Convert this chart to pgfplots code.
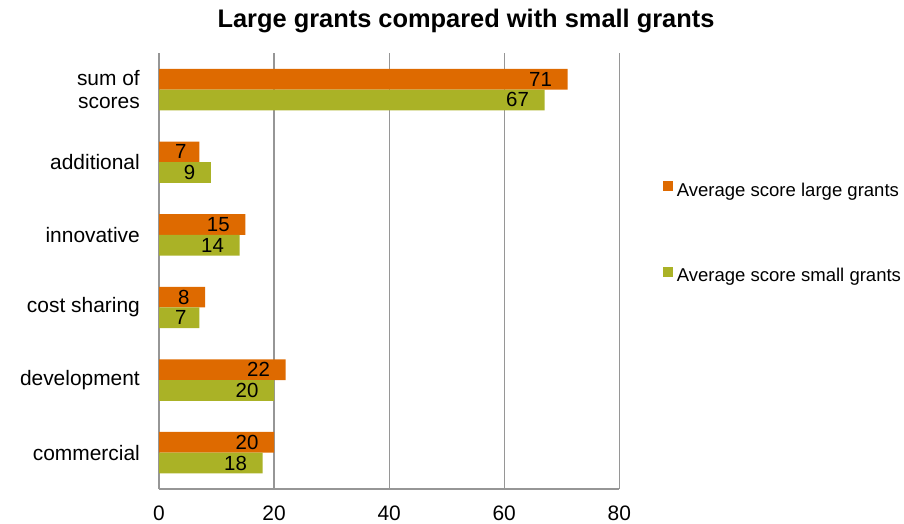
\documentclass[border=0pt]{standalone}
\usepackage{fontspec}
\setmainfont{Liberation Sans}
\usepackage{pgfplots}
\usepackage{pgfplotstable}
\pgfplotsset{compat=1.18}

\definecolor{largeorange}{RGB}{222,106,0}
\definecolor{smallgreen}{RGB}{170,178,38}
\definecolor{gridgray}{RGB}{150,150,150}

% average scores per criterion (pos 0 = bottom row)
\pgfplotstableread{
pos large small
0   20    18
1   22    20
2   8     7
3   15    14
4   7     9
5   71    67
}\scores

\pgfplotsset{
  sqlegend/.style={legend image code/.code={\fill[##1,draw=none] (0bp,-1bp) rectangle (10bp,9bp);}},
}

\begin{document}
\begin{tikzpicture}
\path[use as bounding box] (0,0) rectangle (904bp,524bp);
\node[anchor=base, font=\fontsize{25.5}{30}\selectfont\bfseries] at (466bp,496.5bp)
  {Large grants compared with small grants};
\begin{axis}[
  at={(159bp,35bp)}, anchor=south west,
  scale only axis, width=460.3bp, height=435.7bp,
  xbar, bar width=20.7bp,
  xmin=0, xmax=80, ymin=-0.5, ymax=5.5,
  xtick={0,20,...,80}, ytick={0,...,5},
  yticklabels={commercial,development,cost sharing,innovative,additional,{sum of\\scores}},
  axis lines*=left,
  axis line style={gridgray, line width=1.3bp},
  xmajorgrids, major grid style={gridgray, line width=1.3bp},
  major tick length=0pt,
  tick label style={font=\fontsize{21}{23.5}\selectfont},
  /pgf/number format/assume math mode=true,
  yticklabel style={align=right, anchor=east, inner sep=0pt, xshift=-19bp},
  xticklabel style={anchor=base, inner sep=0pt, yshift=-31.2bp},
  point meta=x,
  nodes near coords,
  % value label sits inside the bar end, but never closer than 27.5bp to the axis
  visualization depends on={x \as \rawx},
  nodes near coords style={font=\fontsize{20.5}{24}\selectfont, anchor=east, inner sep=0pt,
    xshift={max(-15.5,27.5-5.75*\rawx)}},
  legend cell align=left,
  legend style={at={(1.0957,0.7058)}, anchor=north west, draw=none, fill=none,
    inner sep=0pt, outer sep=0pt, row sep=69bp,
    nodes={inner sep=0pt},
    font=\fontsize{18.6}{22}\selectfont,
    /tikz/every odd column/.append style={column sep=3.5bp}},
]
\addplot[fill=largeorange, draw=none, bar shift=10.35bp, sqlegend]
  table[x=large, y=pos] {\scores};
\addlegendentry{Average score large grants}
\addplot[fill=smallgreen, draw=none, bar shift=-10.35bp, sqlegend]
  table[x=small, y=pos] {\scores};
\addlegendentry{Average score small grants}
\end{axis}
\end{tikzpicture}
\end{document}
